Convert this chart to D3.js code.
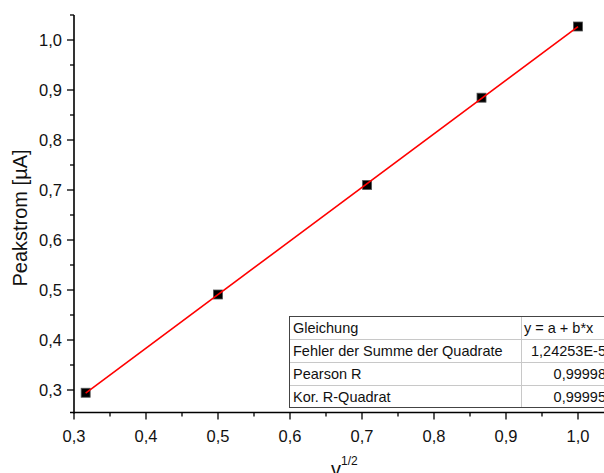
<!DOCTYPE html>
<html>
<head>
<meta charset="utf-8">
<script src="https://cdn.jsdelivr.net/npm/d3@7"></script>
<style>
  html, body { margin: 0; padding: 0; background: #fff; overflow: hidden; }
  svg { display: block; font-family: "Liberation Sans", Arial, sans-serif; }
</style>
</head>
<body>
<svg id="chart" width="604" height="473"></svg>
<script>
// ---- data ----
const xValues = [0.3162, 0.5, 0.7071, 0.866, 1.0];
const yValues = [0.2945, 0.491, 0.710, 0.8846, 1.027];
const fitIntercept = -0.0451;
const fitSlope = 1.0718;
const xTicks = [0.3, 0.4, 0.5, 0.6, 0.7, 0.8, 0.9, 1.0];
const yTicks = [0.3, 0.4, 0.5, 0.6, 0.7, 0.8, 0.9, 1.0];
const tableLabels = ["Gleichung", "Fehler der Summe der Quadrate", "Pearson R", "Kor. R-Quadrat"];
const tableValues = ["y = a + b*x", "1,24253E-5", "0,99998", "0,99995"];
const xTitle = "v";
const xTitleSup = "1/2";
const yTitle = "Peakstrom [µA]";

// ---- layout ----
const svg = d3.select("#chart");
const mLeft = 74, mRight = 614, mTop = 15, mBottom = 412.5;
const x = d3.scaleLinear().domain([0.3, 1.05]).range([mLeft, mRight]);
const y = d3.scaleLinear().domain([0.255, 1.05]).range([mBottom, mTop]);
const fmt = d => d3.format(".1f")(d).replace(".", ",");

// minor ticks
const xMinor = d3.range(0.35, 1.06, 0.1).map(v => +v.toFixed(2));
const yMinor = d3.range(0.35, 1.06, 0.1).map(v => +v.toFixed(2));

// Y axis
const yAxis = svg.append("g").attr("transform", `translate(${mLeft},0)`);
yAxis.append("line").attr("x1", 0).attr("x2", 0).attr("y1", mTop).attr("y2", mBottom + 1)
  .attr("stroke", "#000").attr("stroke-width", 1.6);
yAxis.selectAll(".maj").data(yTicks).join("line").attr("class", "maj")
  .attr("x1", -7).attr("x2", 0).attr("y1", d => y(d)).attr("y2", d => y(d))
  .attr("stroke", "#000").attr("stroke-width", 1.3);
yAxis.selectAll(".min").data(yMinor).join("line").attr("class", "min")
  .attr("x1", -4).attr("x2", 0).attr("y1", d => y(d)).attr("y2", d => y(d))
  .attr("stroke", "#000").attr("stroke-width", 1.3);
yAxis.selectAll(".lbl").data(yTicks).join("text").attr("class", "lbl")
  .attr("x", -12).attr("y", d => y(d)).attr("dy", "0.35em")
  .attr("text-anchor", "end").attr("font-size", 16.5).attr("fill", "#111")
  .text(fmt);

// X axis
const xAxis = svg.append("g").attr("transform", `translate(0,${mBottom})`);
xAxis.append("line").attr("x1", mLeft - 4).attr("x2", mRight).attr("y1", 0).attr("y2", 0)
  .attr("stroke", "#000").attr("stroke-width", 1.6);
xAxis.selectAll(".maj").data(xTicks).join("line").attr("class", "maj")
  .attr("x1", d => x(d)).attr("x2", d => x(d)).attr("y1", 0).attr("y2", 7)
  .attr("stroke", "#000").attr("stroke-width", 1.3);
xAxis.selectAll(".min").data(xMinor).join("line").attr("class", "min")
  .attr("x1", d => x(d)).attr("x2", d => x(d)).attr("y1", 0).attr("y2", 4)
  .attr("stroke", "#000").attr("stroke-width", 1.3);
xAxis.selectAll(".lbl").data(xTicks).join("text").attr("class", "lbl")
  .attr("x", d => x(d)).attr("y", 29)
  .attr("text-anchor", "middle").attr("font-size", 16.5).attr("fill", "#111")
  .text(fmt);

// Axis titles
svg.append("text")
  .attr("transform", `translate(27,218) rotate(-90)`)
  .attr("text-anchor", "middle").attr("font-size", 20).attr("fill", "#111")
  .text(yTitle);
const xt = svg.append("text").attr("x", 331).attr("y", 476)
  .attr("font-size", 20).attr("fill", "#111");
xt.append("tspan").text(xTitle);
xt.append("tspan").attr("font-size", 12).attr("dy", -11).text(xTitleSup);

// Table
const tX = 289, tTop = 316, rowH = 23, colX = 521, tRight = 620;
const tbl = svg.append("g");
tbl.append("rect").attr("x", tX).attr("y", tTop).attr("width", tRight - tX)
  .attr("height", rowH * tableLabels.length).attr("fill", "#fff");
tbl.selectAll(".hl").data(d3.range(1, tableLabels.length)).join("line").attr("class", "hl")
  .attr("x1", tX).attr("x2", tRight)
  .attr("y1", i => tTop + i * rowH + 0.5).attr("y2", i => tTop + i * rowH + 0.5)
  .attr("stroke", "#c8c8c8").attr("stroke-width", 1);
tbl.append("line").attr("x1", colX + 0.5).attr("x2", colX + 0.5).attr("y1", tTop)
  .attr("y2", tTop + rowH * tableLabels.length).attr("stroke", "#c8c8c8");
tbl.append("rect").attr("x", tX + 0.5).attr("y", tTop + 0.5).attr("width", tRight - tX)
  .attr("height", rowH * tableLabels.length - 1).attr("fill", "none")
  .attr("stroke", "#444").attr("stroke-width", 1);
tbl.selectAll(".tl").data(tableLabels).join("text").attr("class", "tl")
  .attr("x", tX + 4).attr("y", (d, i) => tTop + i * rowH + rowH / 2).attr("dy", "0.36em")
  .attr("font-size", 14.5).attr("fill", "#111").text(d => d);
tbl.selectAll(".tv").data(tableValues).join("text").attr("class", "tv")
  .attr("x", (d, i) => i === 0 ? colX + 3 : 606)
  .attr("text-anchor", (d, i) => i === 0 ? "start" : "end")
  .attr("y", (d, i) => tTop + i * rowH + rowH / 2).attr("dy", "0.36em")
  .attr("font-size", 14.5).attr("fill", "#111").text(d => d);

// Data points
const sz = 9;
svg.selectAll(".pt").data(xValues).join("rect").attr("class", "pt")
  .attr("x", d => x(d) - sz / 2).attr("y", (d, i) => y(yValues[i]) - sz / 2)
  .attr("width", sz).attr("height", sz)
  .attr("fill", "#000").attr("stroke", "#555").attr("stroke-width", 0.8);

// Fit line
const xFit = d3.extent(xValues);
svg.append("line")
  .attr("x1", x(xFit[0])).attr("y1", y(fitIntercept + fitSlope * xFit[0]))
  .attr("x2", x(xFit[1])).attr("y2", y(fitIntercept + fitSlope * xFit[1]))
  .attr("stroke", "#ff0000").attr("stroke-width", 1.6);
</script>
</body>
</html>
